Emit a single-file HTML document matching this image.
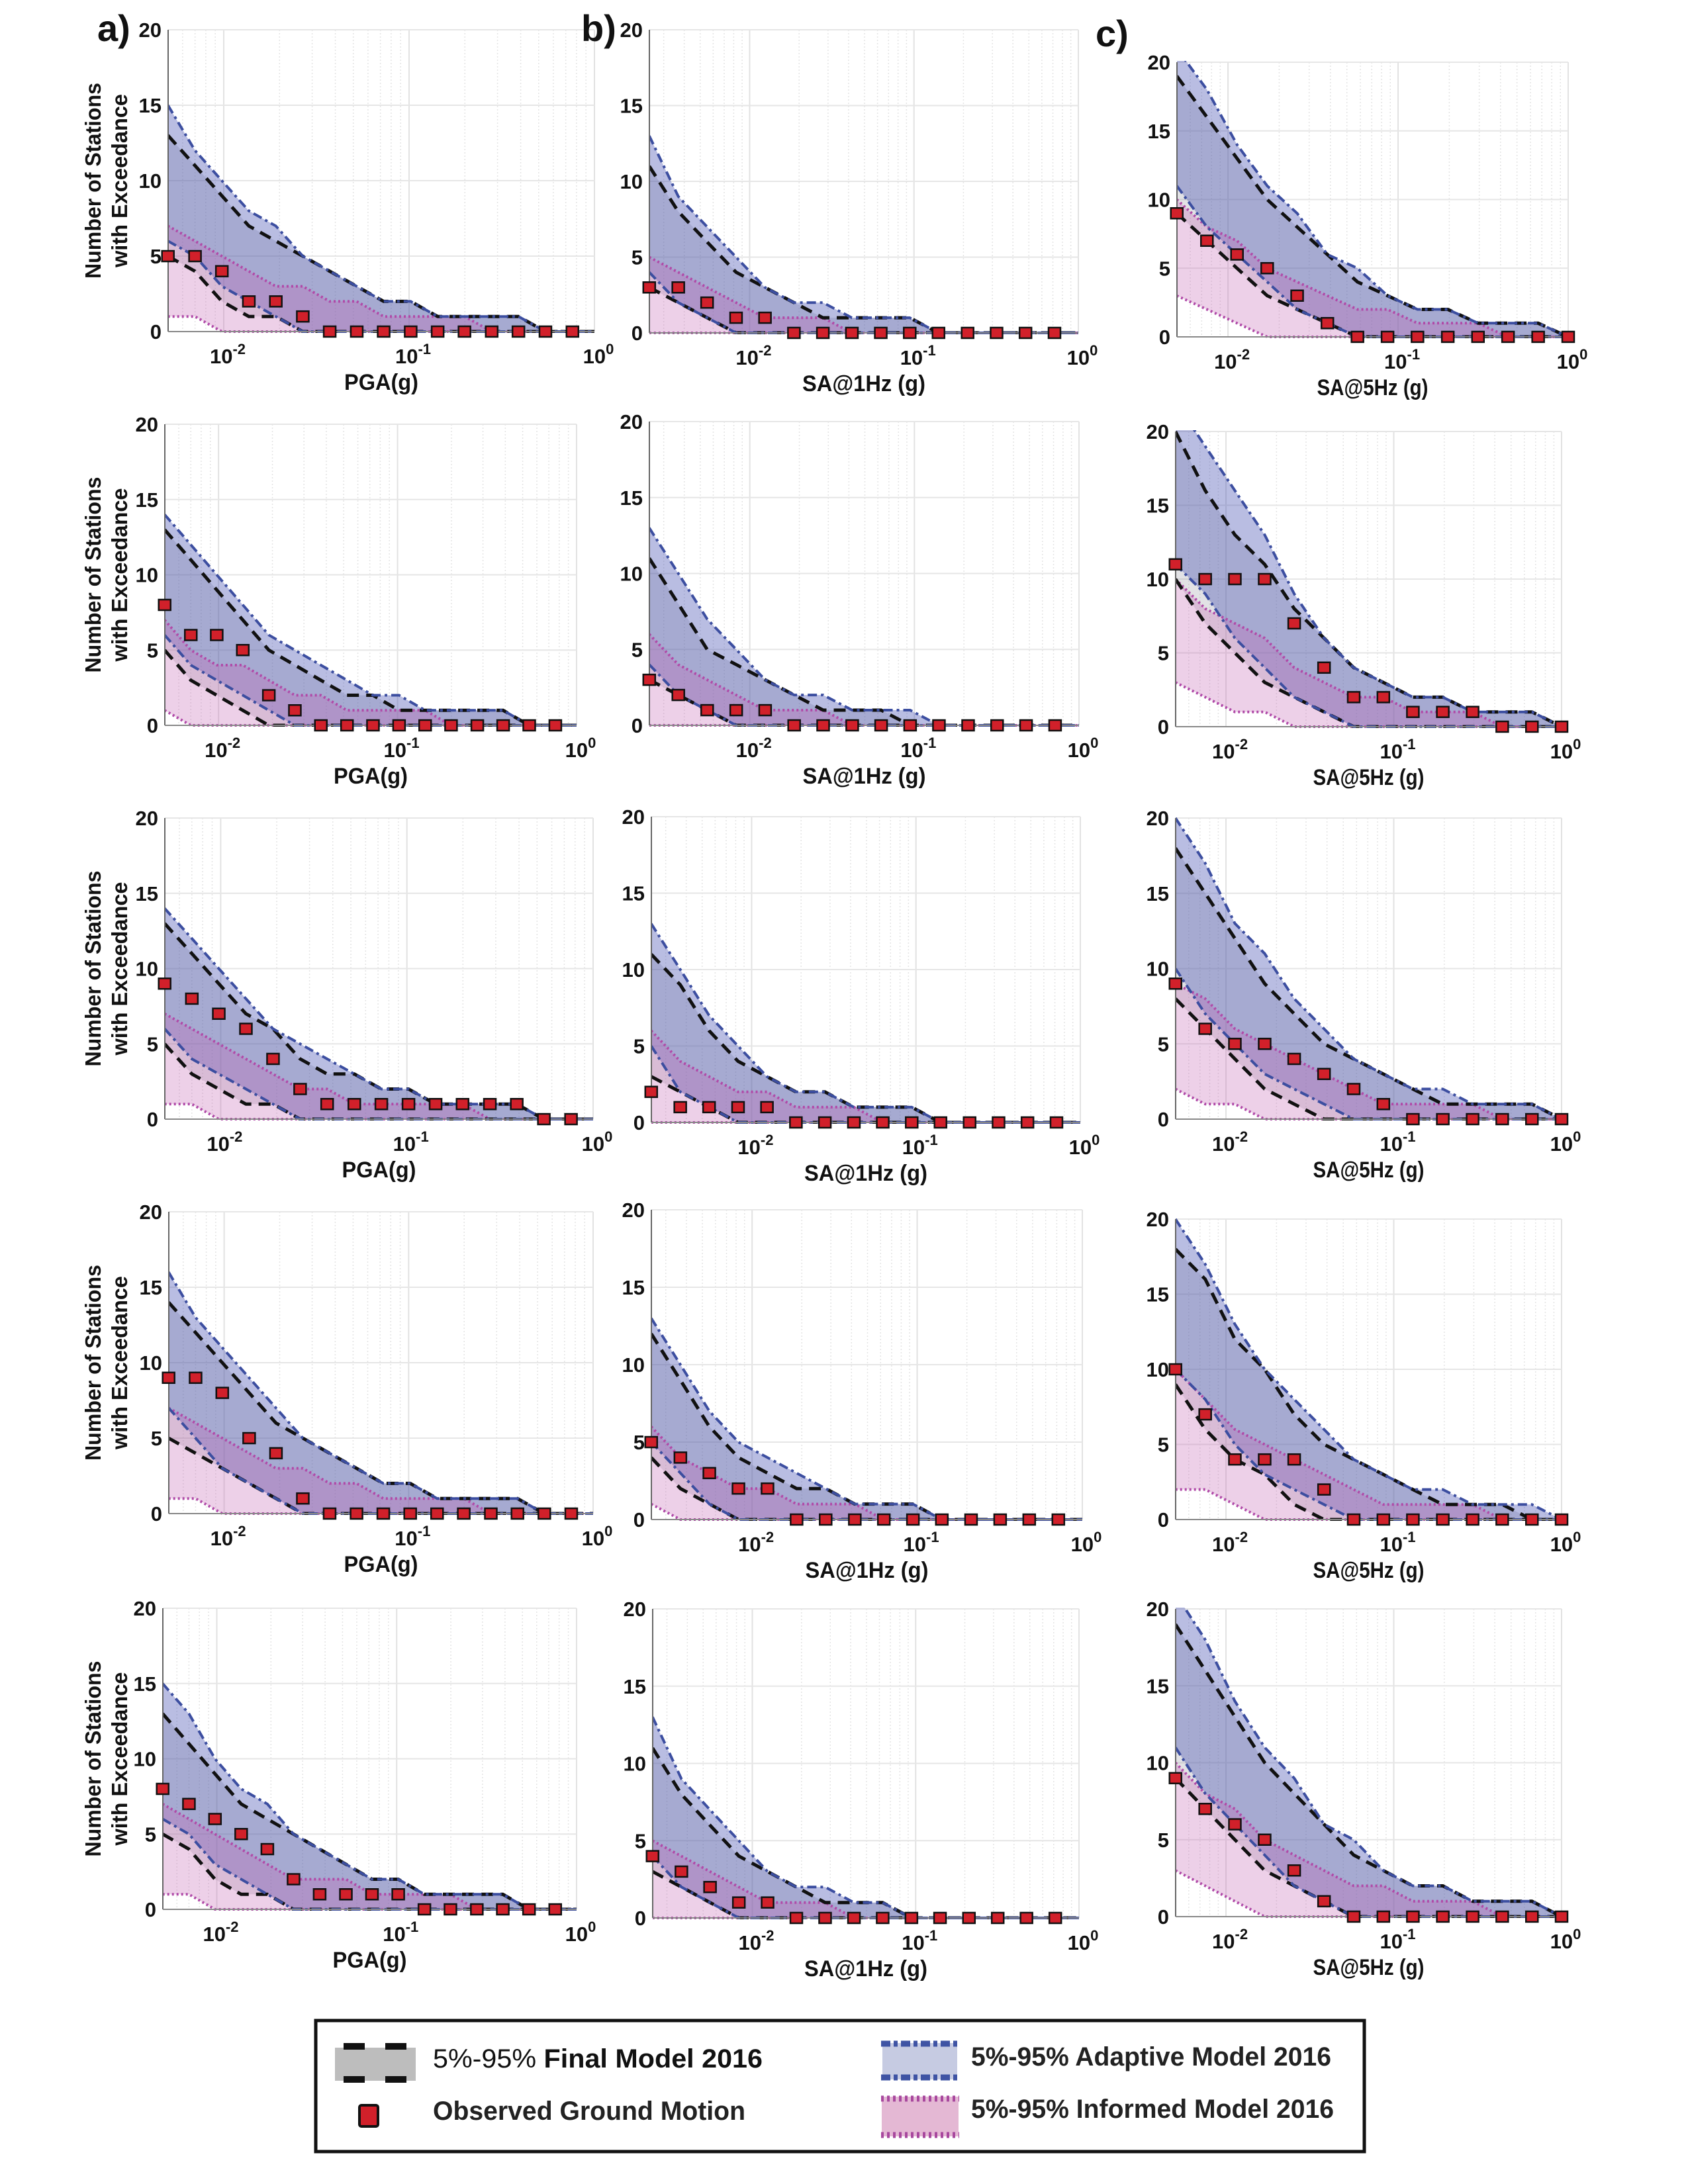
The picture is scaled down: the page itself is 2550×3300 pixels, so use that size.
<!DOCTYPE html>
<html><head><meta charset="utf-8"><title>Exceedance comparison</title>
<style>
html,body{margin:0;padding:0;background:#fff;}
svg{display:block;font-family:"Liberation Sans",Arial,sans-serif;}
</style></head>
<body>
<svg id="fig" width="2550" height="3300" viewBox="0 0 2550 3300" xmlns="http://www.w3.org/2000/svg">
<rect x="0" y="0" width="2550" height="3300" fill="#fff"/>
<g id="panels"></g>
<g id="legend">
  <rect x="477" y="3053" width="1584" height="198" fill="#fff" stroke="#111" stroke-width="5"/>
  <g>
    <rect x="506" y="3094" width="122" height="50" fill="#bdbdbd"/>
    <rect x="519" y="3087" width="32" height="10" fill="#111"/>
    <rect x="582" y="3087" width="32" height="10" fill="#111"/>
    <rect x="519" y="3137" width="32" height="10" fill="#111"/>
    <rect x="582" y="3137" width="32" height="10" fill="#111"/>
    <text x="654" y="3124" font-size="40" fill="#111" textLength="498" lengthAdjust="spacingAndGlyphs">5%-95% <tspan font-weight="bold">Final Model 2016</tspan></text>
  </g>
  <g>
    <rect x="543" y="3181" width="28" height="32" rx="3" fill="#d1202a" stroke="#111" stroke-width="4"/>
    <text x="654" y="3203" font-size="40" font-weight="bold" fill="#222" textLength="472" lengthAdjust="spacingAndGlyphs">Observed Ground Motion</text>
  </g>
  <g>
    <rect x="1333" y="3087" width="113" height="55" fill="#c6cbe2"/>
    <line x1="1331" y1="3088" x2="1448" y2="3088" stroke="#3f54a4" stroke-width="9" stroke-dasharray="14,5,6,5"/>
    <line x1="1331" y1="3139" x2="1448" y2="3139" stroke="#3f54a4" stroke-width="9" stroke-dasharray="14,5,6,5"/>
    <text x="1467" y="3121" font-size="40" font-weight="bold" fill="#222" textLength="544" lengthAdjust="spacingAndGlyphs">5%-95% Adaptive Model 2016</text>
  </g>
  <g>
    <rect x="1332" y="3168" width="116" height="60" fill="#e4b8d4"/>
    <line x1="1331" y1="3171" x2="1449" y2="3171" stroke="#a8489e" stroke-width="9" stroke-dasharray="4,5"/>
    <line x1="1331" y1="3226" x2="1449" y2="3226" stroke="#a8489e" stroke-width="9" stroke-dasharray="4,5"/>
    <text x="1467" y="3200" font-size="40" font-weight="bold" fill="#222" textLength="548" lengthAdjust="spacingAndGlyphs">5%-95% Informed Model 2016</text>
  </g>
</g>
</svg>
<script>
// ---- x categories (g) ----
const xPGA=[0.005,0.007,0.00977,0.01366,0.0191,0.0267,0.0373,0.0522,0.0729,0.102,0.1426,0.199,0.279,0.389,0.544,0.761];
const xSA1=[0.00245,0.00368,0.00551,0.00827,0.0124,0.0186,0.0279,0.0419,0.0628,0.0942,0.141,0.212,0.318,0.477,0.716];
const xSA5=[0.005,0.00752,0.0113,0.0170,0.0255,0.0384,0.0577,0.0867,0.130,0.196,0.295,0.443,0.666,1.0];
const yTicks=[0,5,10,15,20];
const xTickExps=[-2,-1,0];

// ---- row 1 ----
const a1Obs=[5,5,4,2,2,1,0,0,0,0,0,0,0,0,0,0];
const a1AdU=[15,12,10,8,7,5,4,3,2,2,1,1,1,1,0,0];
const a1FiU=[13,11,9,7,6,5,4,3,2,2,1,1,1,1,0,0];
const a1AdL=[6,5,3,2,1,0,0,0,0,0,0,0,0,0,0,0];
const a1FiL=[5,4,2,1,1,0,0,0,0,0,0,0,0,0,0,0];
const a1InU=[7,6,5,4,3,3,2,2,1,1,1,1,0,0,0,0];
const a1InL=[1,1,0,0,0,0,0,0,0,0,0,0,0,0,0,0];
const b1Obs=[3,3,2,1,1,0,0,0,0,0,0,0,0,0,0];
const b1AdU=[13,9,7,5,3,2,2,1,1,1,0,0,0,0,0];
const b1FiU=[11,8,6,4,3,2,1,1,1,1,0,0,0,0,0];
const b1AdL=[4,2,1,0,0,0,0,0,0,0,0,0,0,0,0];
const b1FiL=[3,2,1,0,0,0,0,0,0,0,0,0,0,0,0];
const b1InU=[5,4,3,2,1,1,1,0,0,0,0,0,0,0,0];
const b1InL=[0,0,0,0,0,0,0,0,0,0,0,0,0,0,0];
const c1Obs=[9,7,6,5,3,1,0,0,0,0,0,0,0,0];
const c1AdU=[21,18,14,11,9,6,5,3,2,2,1,1,1,0];
const c1FiU=[19,16,13,10,8,6,4,3,2,2,1,1,1,0];
const c1AdL=[11,8,6,4,2,1,0,0,0,0,0,0,0,0];
const c1FiL=[9,7,5,3,2,1,0,0,0,0,0,0,0,0];
const c1InU=[10,8,7,5,4,3,2,2,1,1,1,0,0,0];
const c1InL=[3,2,1,0,0,0,0,0,0,0,0,0,0,0];
// ---- row 2 ----
const a2Obs=[8,6,6,5,2,1,0,0,0,0,0,0,0,0,0,0];
const a2AdU=[14,12,10,8,6,5,4,3,2,2,1,1,1,1,0,0];
const a2FiU=[13,11,9,7,5,4,3,2,2,1,1,1,1,1,0,0];
const a2AdL=[6,4,3,2,1,0,0,0,0,0,0,0,0,0,0,0];
const a2FiL=[5,3,2,1,0,0,0,0,0,0,0,0,0,0,0,0];
const a2InU=[7,5,4,4,3,2,2,1,1,1,1,0,0,0,0,0];
const a2InL=[1,0,0,0,0,0,0,0,0,0,0,0,0,0,0,0];
const b2Obs=[3,2,1,1,1,0,0,0,0,0,0,0,0,0,0];
const b2AdU=[13,10,7,5,3,2,2,1,1,1,0,0,0,0,0];
const b2FiU=[11,8,5,4,3,2,1,1,1,0,0,0,0,0,0];
const b2AdL=[4,2,1,0,0,0,0,0,0,0,0,0,0,0,0];
const b2FiL=[3,2,1,0,0,0,0,0,0,0,0,0,0,0,0];
const b2InU=[6,4,3,2,1,1,1,0,0,0,0,0,0,0,0];
const b2InL=[0,0,0,0,0,0,0,0,0,0,0,0,0,0,0];
const c2Obs=[11,10,10,10,7,4,2,2,1,1,1,0,0,0];
const c2AdU=[22,19,16,13,9,6,4,3,2,2,1,1,1,0];
const c2FiU=[20,16,13,11,8,6,4,3,2,2,1,1,1,0];
const c2AdL=[11,9,6,4,2,1,0,0,0,0,0,0,0,0];
const c2FiL=[10,7,5,3,2,1,0,0,0,0,0,0,0,0];
const c2InU=[10,8,7,6,4,3,2,2,1,1,1,0,0,0];
const c2InL=[3,2,1,1,0,0,0,0,0,0,0,0,0,0];
// ---- row 3 ----
const a3Obs=[9,8,7,6,4,2,1,1,1,1,1,1,1,1,0,0];
const a3AdU=[14,12,10,8,6,5,4,3,2,2,1,1,1,1,0,0];
const a3FiU=[13,11,9,7,6,4,3,3,2,2,1,1,1,1,0,0];
const a3AdL=[6,4,3,2,1,0,0,0,0,0,0,0,0,0,0,0];
const a3FiL=[5,3,2,1,1,0,0,0,0,0,0,0,0,0,0,0];
const a3InU=[7,6,5,4,3,2,2,1,1,1,1,1,0,0,0,0];
const a3InL=[1,1,0,0,0,0,0,0,0,0,0,0,0,0,0,0];
const b3Obs=[2,1,1,1,1,0,0,0,0,0,0,0,0,0,0];
const b3AdU=[13,10,7,5,3,2,2,1,1,1,0,0,0,0,0];
const b3FiU=[11,9,6,4,3,2,2,1,1,1,0,0,0,0,0];
const b3AdL=[5,2,1,0,0,0,0,0,0,0,0,0,0,0,0];
const b3FiL=[3,2,1,0,0,0,0,0,0,0,0,0,0,0,0];
const b3InU=[6,4,3,2,2,1,1,1,0,0,0,0,0,0,0];
const b3InL=[0,0,0,0,0,0,0,0,0,0,0,0,0,0,0];
const c3Obs=[9,6,5,5,4,3,2,1,0,0,0,0,0,0];
const c3AdU=[20,17,13,11,8,6,4,3,2,2,1,1,1,0];
const c3FiU=[18,15,12,9,7,5,4,3,2,1,1,1,1,0];
const c3AdL=[10,7,5,3,2,1,0,0,0,0,0,0,0,0];
const c3FiL=[8,6,4,2,1,0,0,0,0,0,0,0,0,0];
const c3InU=[9,8,6,5,4,3,2,1,1,1,1,0,0,0];
const c3InL=[2,1,1,0,0,0,0,0,0,0,0,0,0,0];
// ---- row 4 ----
const a4Obs=[9,9,8,5,4,1,0,0,0,0,0,0,0,0,0,0];
const a4AdU=[16,13,11,9,7,5,4,3,2,2,1,1,1,1,0,0];
const a4FiU=[14,12,10,8,6,5,4,3,2,2,1,1,1,1,0,0];
const a4AdL=[7,5,3,2,1,0,0,0,0,0,0,0,0,0,0,0];
const a4FiL=[5,4,3,2,1,0,0,0,0,0,0,0,0,0,0,0];
const a4InU=[7,6,5,4,3,3,2,2,1,1,1,1,0,0,0,0];
const a4InL=[1,1,0,0,0,0,0,0,0,0,0,0,0,0,0,0];
const b4Obs=[5,4,3,2,2,0,0,0,0,0,0,0,0,0,0];
const b4AdU=[13,10,7,5,4,3,2,1,1,1,0,0,0,0,0];
const b4FiU=[12,9,6,4,3,2,2,1,1,1,0,0,0,0,0];
const b4AdL=[5,3,1,0,0,0,0,0,0,0,0,0,0,0,0];
const b4FiL=[4,2,1,0,0,0,0,0,0,0,0,0,0,0,0];
const b4InU=[6,4,3,2,2,1,1,1,0,0,0,0,0,0,0];
const b4InL=[1,0,0,0,0,0,0,0,0,0,0,0,0,0,0];
const c4Obs=[10,7,4,4,4,2,0,0,0,0,0,0,0,0];
const c4AdU=[20,17,13,10,8,6,4,3,2,2,1,1,1,0];
const c4FiU=[18,16,12,10,7,5,4,3,2,1,1,1,0,0];
const c4AdL=[10,8,5,3,2,1,0,0,0,0,0,0,0,0];
const c4FiL=[9,6,4,3,1,0,0,0,0,0,0,0,0,0];
const c4InU=[10,8,6,5,4,3,2,1,1,1,1,0,0,0];
const c4InL=[2,2,1,0,0,0,0,0,0,0,0,0,0,0];
// ---- row 5 ----
const a5Obs=[8,7,6,5,4,2,1,1,1,1,0,0,0,0,0,0];
const a5AdU=[15,13,10,8,7,5,4,3,2,2,1,1,1,1,0,0];
const a5FiU=[13,11,9,7,6,5,4,3,2,2,1,1,1,1,0,0];
const a5AdL=[6,5,3,2,1,0,0,0,0,0,0,0,0,0,0,0];
const a5FiL=[5,4,2,1,1,0,0,0,0,0,0,0,0,0,0,0];
const a5InU=[7,6,5,4,3,2,2,2,1,1,1,1,0,0,0,0];
const a5InL=[1,1,0,0,0,0,0,0,0,0,0,0,0,0,0,0];
const b5Obs=[4,3,2,1,1,0,0,0,0,0,0,0,0,0,0];
const b5AdU=[13,9,7,5,3,2,2,1,1,0,0,0,0,0,0];
const b5FiU=[11,8,6,4,3,2,1,1,1,0,0,0,0,0,0];
const b5AdL=[4,2,1,0,0,0,0,0,0,0,0,0,0,0,0];
const b5FiL=[3,2,1,0,0,0,0,0,0,0,0,0,0,0,0];
const b5InU=[5,4,3,2,1,1,1,0,0,0,0,0,0,0,0];
const b5InL=[0,0,0,0,0,0,0,0,0,0,0,0,0,0,0];
const c5Obs=[9,7,6,5,3,1,0,0,0,0,0,0,0,0];
const c5AdU=[21,18,14,11,9,6,5,3,2,2,1,1,1,0];
const c5FiU=[19,16,13,10,8,6,4,3,2,2,1,1,1,0];
const c5AdL=[11,8,6,4,2,1,0,0,0,0,0,0,0,0];
const c5FiL=[9,7,5,3,2,1,0,0,0,0,0,0,0,0];
const c5InU=[10,8,7,5,4,3,2,2,1,1,1,0,0,0];
const c5InL=[3,2,1,0,0,0,0,0,0,0,0,0,0,0];

const NS="http://www.w3.org/2000/svg";
function mk(tag,attrs,parent){const e=document.createElementNS(NS,tag);for(const k in attrs)e.setAttribute(k,attrs[k]);if(parent)parent.appendChild(e);return e;}

const layout=[
 {id:'a1',col:'a',L:254,R:898,T:45,B:501},{id:'b1',col:'b',L:981,R:1629,T:45,B:503},{id:'c1',col:'c',L:1778,R:2369,T:94,B:509},
 {id:'a2',col:'a',L:249,R:871,T:641,B:1096},{id:'b2',col:'b',L:981,R:1630,T:637,B:1096},{id:'c2',col:'c',L:1776,R:2359,T:652,B:1098},
 {id:'a3',col:'a',L:249,R:896,T:1236,B:1691},{id:'b3',col:'b',L:984,R:1632,T:1234,B:1696},{id:'c3',col:'c',L:1776,R:2359,T:1236,B:1691},
 {id:'a4',col:'a',L:255,R:896,T:1831,B:2287},{id:'b4',col:'b',L:984,R:1635,T:1828,B:2296},{id:'c4',col:'c',L:1776,R:2359,T:1842,B:2296},
 {id:'a5',col:'a',L:246,R:871,T:2430,B:2885},{id:'b5',col:'b',L:986,R:1630,T:2431,B:2898},{id:'c5',col:'c',L:1776,R:2359,T:2431,B:2896}
];
const series={
 a1:[a1Obs,a1AdU,a1AdL,a1FiU,a1FiL,a1InU,a1InL],b1:[b1Obs,b1AdU,b1AdL,b1FiU,b1FiL,b1InU,b1InL],c1:[c1Obs,c1AdU,c1AdL,c1FiU,c1FiL,c1InU,c1InL],
 a2:[a2Obs,a2AdU,a2AdL,a2FiU,a2FiL,a2InU,a2InL],b2:[b2Obs,b2AdU,b2AdL,b2FiU,b2FiL,b2InU,b2InL],c2:[c2Obs,c2AdU,c2AdL,c2FiU,c2FiL,c2InU,c2InL],
 a3:[a3Obs,a3AdU,a3AdL,a3FiU,a3FiL,a3InU,a3InL],b3:[b3Obs,b3AdU,b3AdL,b3FiU,b3FiL,b3InU,b3InL],c3:[c3Obs,c3AdU,c3AdL,c3FiU,c3FiL,c3InU,c3InL],
 a4:[a4Obs,a4AdU,a4AdL,a4FiU,a4FiL,a4InU,a4InL],b4:[b4Obs,b4AdU,b4AdL,b4FiU,b4FiL,b4InU,b4InL],c4:[c4Obs,c4AdU,c4AdL,c4FiU,c4FiL,c4InU,c4InL],
 a5:[a5Obs,a5AdU,a5AdL,a5FiU,a5FiL,a5InU,a5InL],b5:[b5Obs,b5AdU,b5AdL,b5FiU,b5FiL,b5InU,b5InL],c5:[c5Obs,c5AdU,c5AdL,c5FiU,c5FiL,c5InU,c5InL]
};
const colInfo={a:{xs:xPGA,lx:-2.30,label:'PGA(g)',lw:112},b:{xs:xSA1,lx:-2.61,label:'SA@1Hz (g)',lw:186},c:{xs:xSA5,lx:-2.30,label:'SA@5Hz (g)',lw:168}};

const root=document.getElementById('panels');
const defs=mk('defs',{},root);

layout.forEach(p=>{
  const ci=colInfo[p.col];const xs=ci.xs;const lx=ci.lx;
  const X=v=>p.L+(Math.log10(v)-lx)/(-lx)*(p.R-p.L);
  const Y=v=>p.B-(v/20)*(p.B-p.T);
  const g=mk('g',{},root);
  
  
  const cp=mk('clipPath',{id:'clip-'+p.id},defs);
  mk('rect',{x:p.L,y:p.T-2,width:p.R-p.L+3,height:p.B-p.T+4},cp);
  for(let d=Math.floor(lx);d<0;d++){for(let k=2;k<=9;k++){const v=k*Math.pow(10,d);if(Math.log10(v)<=lx)continue;
    const gl=mk('line',{x1:X(v),x2:X(v),y1:p.T,y2:p.B,stroke:'#e4e4e4','stroke-width':1.5,'stroke-dasharray':'2,3'},g);
    
    }}
  xTickExps.forEach(e=>{const gl=mk('line',{x1:X(Math.pow(10,e)),x2:X(Math.pow(10,e)),y1:p.T,y2:p.B,stroke:'#e2e2e2','stroke-width':2},g);
    
    });
  yTicks.forEach(t=>{const gl=mk('line',{x1:p.L,x2:p.R,y1:Y(t),y2:Y(t),stroke:'#e6e6e6','stroke-width':2},g);
    
    });
  const s=series[p.id];const [obs,adU,adL,fiU,fiL,inU,inL]=s;
  const pts=arr=>{const a=arr.map((v,i)=>[X(xs[i]),Y(v)]);a.push([p.R,Y(arr[arr.length-1])]);return a;};
  const poly=(up,lo)=>{const u=pts(up),l=pts(lo).reverse();return u.concat(l).map(q=>q[0].toFixed(1)+','+q[1].toFixed(1)).join(' ');};
  const cg=mk('g',{'clip-path':'url(#clip-'+p.id+')'},g);
  
  
  const f1=mk('polygon',{points:poly(fiU,fiL),fill:'rgba(140,140,150,0.25)'},cg);
  
  
  const f2=mk('polygon',{points:poly(adU,adL),fill:'rgba(60,72,175,0.36)'},cg);
  
  
  const f3=mk('polygon',{points:poly(inU,inL),fill:'rgba(195,100,180,0.3)'},cg);
  
  
  const line=(arr,stroke,w,dash,name)=>{const l=mk('polyline',{points:pts(arr).map(q=>q[0].toFixed(1)+','+q[1].toFixed(1)).join(' '),fill:'none',stroke:stroke,'stroke-width':w,'stroke-dasharray':dash},cg);
    
    };
  line(inU,'#b04aa8',4,'3,4','informed-upper-line');
  line(inL,'#b04aa8',4,'3,4','informed-lower-line');
  line(fiU,'#111',5,'18,11','final-upper-line');
  line(fiL,'#111',5,'18,11','final-lower-line');
  line(adU,'#3c4ea0',4,'14,6,4,6','adaptive-upper-line');
  line(adL,'#3c4ea0',4,'14,6,4,6','adaptive-lower-line');
  const ax=mk('line',{x1:p.L,x2:p.L,y1:p.T,y2:p.B,stroke:'#666','stroke-width':2},g);
  
  
  const bx=mk('line',{x1:p.L,x2:p.R,y1:p.B,y2:p.B,stroke:'#888','stroke-width':2},g);
  
  
  obs.forEach((v,i)=>{const m=mk('rect',{x:X(xs[i])-9,y:Y(v)-8,width:18,height:16,fill:'#d1202a',stroke:'#111','stroke-width':2.5},g);
    
    });
  yTicks.forEach(t=>{const tx=mk('text',{x:p.L-10,y:Y(t)+11,'font-size':31,'font-weight':'bold','text-anchor':'end',fill:'#111'},g);
    tx.textContent=String(t);
    
    });
  xTickExps.forEach(e=>{const tx=mk('text',{x:X(Math.pow(10,e))+6,y:p.B+48,'font-size':31,'font-weight':'bold','text-anchor':'middle',fill:'#111'},g);
    
    
    const t1=mk('tspan',{},tx);t1.textContent='10';
    const t2=mk('tspan',{'font-size':22,dy:-14},tx);t2.textContent=String(e);});
  const xl=mk('text',{x:(p.L+p.R)/2,y:p.B+88,'font-size':34,'font-weight':'bold','text-anchor':'middle',fill:'#111',textLength:ci.lw,lengthAdjust:'spacingAndGlyphs'},g);
  xl.textContent=ci.label;
  
  
  if(p.col==='a'){
    const cy=(p.T+p.B)/2;
    const y1=mk('text',{x:0,y:0,transform:'translate(152,'+cy+') rotate(-90)','font-size':33,'font-weight':'bold','text-anchor':'middle',fill:'#111',textLength:296,lengthAdjust:'spacingAndGlyphs'},g);
    y1.textContent='Number of Stations';
    
    
    const y2=mk('text',{x:0,y:0,transform:'translate(192,'+cy+') rotate(-90)','font-size':33,'font-weight':'bold','text-anchor':'middle',fill:'#111',textLength:262,lengthAdjust:'spacingAndGlyphs'},g);
    y2.textContent='with Exceedance';
    
    
  }
});
[['a)',147,62],['b)',878,62],['c)',1655,70]].forEach(d=>{
  const t=mk('text',{x:d[1],y:d[2],'font-size':56,'font-weight':'bold',fill:'#111'},root);
  t.textContent=d[0];
  
  
});
</script>
</body></html>
